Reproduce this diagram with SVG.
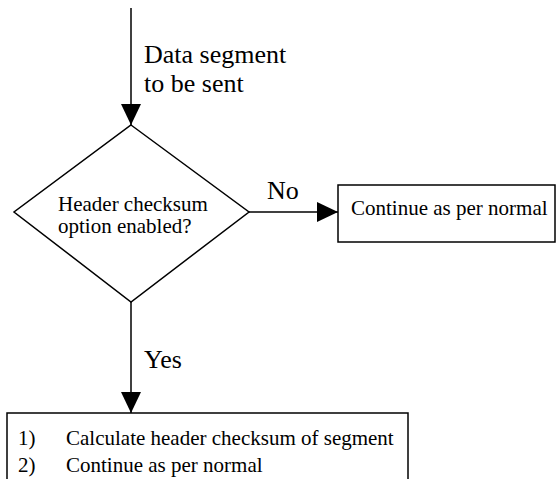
<svg xmlns="http://www.w3.org/2000/svg" width="560" height="479" viewBox="0 0 560 479">
<style>
.s{fill:#fff;stroke:#000;stroke-width:1.5}
.l{stroke:#000;stroke-width:1.5;fill:none}
.t{font-family:"Liberation Serif","Times New Roman",serif;fill:#000}
.b{font-size:26px}
.m{font-size:21px}
</style>
<defs>
<marker id="ah" markerUnits="userSpaceOnUse" markerWidth="22" markerHeight="20" refX="21" refY="10" orient="auto">
<path d="M0,0 L21,10 L0,20 Z" fill="#000"/>
</marker>
</defs>
<rect width="560" height="479" fill="#fff"/>
<g id="connectors">
<line class="l" x1="131" y1="8" x2="131" y2="125" marker-end="url(#ah)"/>
<line class="l" x1="249" y1="212" x2="338" y2="212" marker-end="url(#ah)"/>
<line class="l" x1="131" y1="302" x2="131" y2="413" marker-end="url(#ah)"/>
<text class="t b" x="144" y="63">Data segment</text>
<text class="t b" x="144" y="92">to be sent</text>
<text class="t b" x="267" y="199">No</text>
<text class="t b" x="144" y="368">Yes</text>
</g>
<g id="decision">
<polygon class="s" points="131,125 249,212 131,302 14,212"/>
<text class="t m" x="58" y="211">Header checksum</text>
<text class="t m" x="58" y="233">option enabled?</text>
</g>
<g id="continue">
<rect class="s" x="338" y="185" width="217" height="57"/>
<text class="t m" x="351" y="215">Continue as per normal</text>
</g>
<g id="calculate">
<rect class="s" x="7" y="413" width="401" height="80"/>
<text class="t m" x="18" y="445">1)</text>
<text class="t m" x="66" y="445">Calculate header checksum of segment</text>
<text class="t m" x="18" y="472">2)</text>
<text class="t m" x="66" y="472">Continue as per normal</text>
</g>
</svg>
